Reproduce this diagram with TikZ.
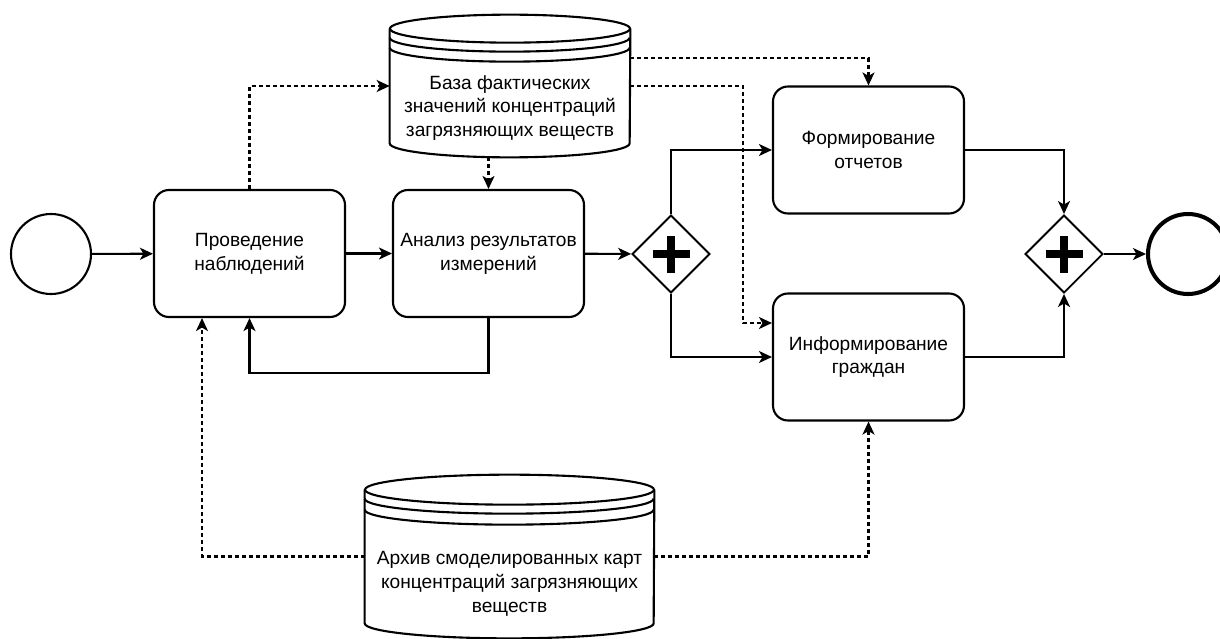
\documentclass[tikz,border=0pt]{standalone}
\usepackage{fontspec}
\setmainfont{Liberation Sans}
\usepackage{tikz}
\usetikzlibrary{positioning}
\usetikzlibrary{shapes.geometric}
\usetikzlibrary{arrows.meta}

\begin{document}
\begin{tikzpicture}[
  font=\fontsize{10.9}{13.6}\selectfont,
  task/.style={draw,line width=1.2pt,rounded corners=.3cm,minimum width=3.82cm,minimum height=2.54cm,align=center,inner sep=0pt},
  gate/.style={draw,diamond,line width=1.1pt,minimum size=1.56cm,inner sep=0pt},
  event/.style={draw,circle,line width=1.2pt,minimum size=1.6cm,inner sep=0pt},
  flow/.style={line width=1.2pt,-{Stealth[length=.26cm,width=.24cm,inset=.07cm]}},
  info/.style={flow,dash pattern=on .08cm off .06cm},
  store/.style={inner sep=0pt},
  storeline/.style={line width=1.2pt},
  plus/.style={line width=.15cm}
]
  \useasboundingbox (0,0) rectangle (24.4,-12.76);

  % events, tasks, gateways
  \node [event]                    (start) at (1.02,-5.08)  {};
  \node [task]                     (obs)   at (4.99,-5.07)  {Проведение\\наблюдений};
  \node [task]                     (anl)   at (9.77,-5.07)  {Анализ результатов\\измерений};
  \node [gate]                     (gw1)   at (13.42,-5.08) {};
  \node [task]                     (rep)   at (17.37,-3.0)  {Формирование\\отчетов};
  \node [task]                     (inf)   at (17.37,-7.14) {Информирование\\граждан};
  \node [gate]                     (gw2)   at (21.28,-5.08) {};
  \node [event,line width=2.3pt]   (stop)  at (23.76,-5.08) {};

  \draw [plus] ([xshift=-.37cm]gw1.center) -- ([xshift=.37cm]gw1.center);
  \draw [plus] ([yshift=-.37cm]gw1.center) -- ([yshift=.37cm]gw1.center);
  \draw [plus] ([xshift=-.37cm]gw2.center) -- ([xshift=.37cm]gw2.center);
  \draw [plus] ([yshift=-.37cm]gw2.center) -- ([yshift=.37cm]gw2.center);

  % data stores
  \node [store,minimum width=4.8cm,minimum height=2.28cm] (db1) at (10.2,-1.72) {};
  \draw [storeline] (db1.north west) -- (db1.south west) arc [start angle=180,end angle=360,x radius=2.4cm,y radius=.28cm] -- (db1.north east);
  \draw [storeline] (db1.north) ellipse [x radius=2.4cm,y radius=.28cm];
  \draw [storeline] ([yshift=-.18cm]db1.north west) arc [start angle=180,end angle=360,x radius=2.4cm,y radius=.28cm];
  \draw [storeline] ([yshift=-.38cm]db1.north west) arc [start angle=180,end angle=360,x radius=2.4cm,y radius=.28cm];
  \node [align=center] (db1txt) at ([yshift=-.44cm]db1.center) {База фактических\\значений концентраций\\загрязняющих веществ};

  \node [store,minimum width=5.78cm,minimum height=2.66cm] (db2) at (10.19,-11.13) {};
  \draw [storeline] (db2.north west) -- (db2.south west) arc [start angle=180,end angle=360,x radius=2.89cm,y radius=.3cm] -- (db2.north east);
  \draw [storeline] (db2.north) ellipse [x radius=2.89cm,y radius=.3cm];
  \draw [storeline] ([yshift=-.18cm]db2.north west) arc [start angle=180,end angle=360,x radius=2.89cm,y radius=.3cm];
  \draw [storeline] ([yshift=-.4cm]db2.north west) arc [start angle=180,end angle=360,x radius=2.89cm,y radius=.3cm];
  \node [align=center] (db2txt) at ([yshift=-.55cm]db2.center) {Архив смоделированных карт\\концентраций загрязняющих\\веществ};

  % sequence flow
  \draw [flow] (start) -- (obs);
  \draw [flow] (obs) -- (anl);
  \draw [flow] (anl) -- (gw1);
  \draw [flow] (gw1.north) |- (rep.west);
  \draw [flow] (gw1.south) |- (inf.west);
  \draw [flow] (rep.east) -| (gw2.north);
  \draw [flow] (inf.east) -| (gw2.south);
  \draw [flow] (gw2) -- (stop);
  \draw [flow] (anl.south) -- ([yshift=-1.1cm]anl.south) -| (obs.south);

  % data associations
  \draw [info] (obs.north) |- (db1.west);
  \draw [info] ([yshift=-.28cm]anl.north |- db1.south) -- (anl.north);
  \draw [info] ([yshift=.56cm]db1.east) -| (rep.north);
  \draw [info] (db1.east) -- ++(2.26,0) |- ([yshift=.68cm]inf.west);
  \draw [info] (db2.west) -| ([xshift=-.95cm]obs.south);
  \draw [info] (db2.east) -| (inf.south);
\end{tikzpicture}
\end{document}
